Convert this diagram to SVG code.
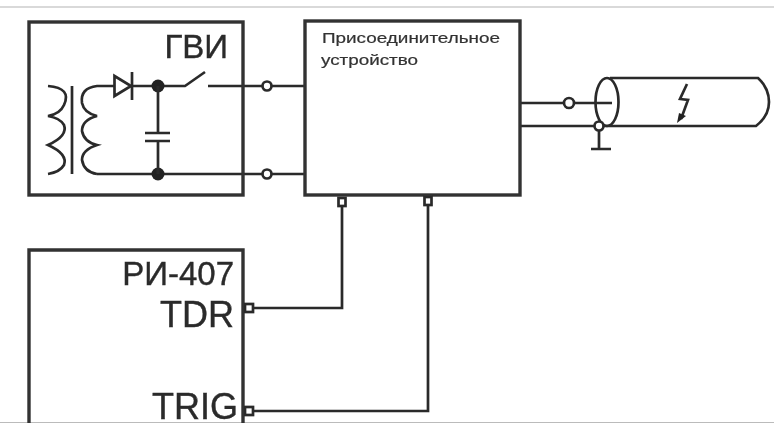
<svg xmlns="http://www.w3.org/2000/svg" width="774" height="423" viewBox="0 0 774 423">
<defs>
<style>
.l{fill:none;stroke:#2b2b2b;stroke-width:2.700}
.b{fill:none;stroke:#333;stroke-width:3.400}
.o{fill:#fff;stroke:#2b2b2b;stroke-width:2.700}
.d{fill:#222;stroke:none}
.t{font-family:"Liberation Sans",Arial,sans-serif;font-size:33px;fill:#2b2b2b;stroke:#2b2b2b;stroke-width:0.400;text-anchor:end}
.u{font-size:36px}
.s{font-family:"Liberation Sans",Arial,sans-serif;font-size:14.500px;fill:#333;stroke:#333;stroke-width:0.200}
</style>
<filter id="soft" x="-5%" y="-5%" width="110%" height="110%"><feGaussianBlur stdDeviation="0.500"/></filter>
</defs>
<rect width="774" height="423" fill="#fff"/>
<g filter="url(#soft)">
<path d="M0 7H774" fill="none" stroke="#ccc" stroke-width="1.500"/>
<path d="M0 422.500H774" fill="none" stroke="#bbb" stroke-width="1"/>
<g id="connectors">
<path class="l" d="M208 86H305M132 86H158H185L205 72M97 174H305"/>
<path class="l" d="M342 205V308H250M428 205V411H250"/>
<path class="l" d="M520 103H612M520 126H607"/>
</g>
<g id="gvi">
<rect class="b" x="29" y="22" width="214" height="173"/>
<text class="t" x="228" y="58">ГВИ</text>
<path class="l" d="M48 86Q72 88 64 105Q60 114 48 116Q60 118 64 125Q68 136 48 145Q68 154 64 165Q60 172 48 174"/>
<path class="l" d="M72 86V174"/>
<path class="l" d="M114 86H97Q80 88 82 103Q84 113 97 116Q82 120 82 131Q84 142 97 145Q82 150 82 160Q84 172 97 174"/>
<path class="l" d="M114.500 76V96L131 86Z" fill="#fff"/>
<path class="l" d="M132 72V100"/>
<circle class="d" cx="158" cy="86" r="6.500"/>
<circle class="d" cx="158" cy="174" r="6.500"/>
<path class="l" d="M158 86V133M158 141V174M145 133H170M145 141H170"/>
</g>
<g id="terminals">
<circle class="o" cx="267" cy="86" r="4.500"/>
<circle class="o" cx="267" cy="174" r="4.500"/>
</g>
<g id="device">
<rect class="b" x="305" y="21" width="215" height="174"/>
<text class="s" x="322" y="43" textLength="178" lengthAdjust="spacingAndGlyphs">Присоединительное</text>
<text class="s" x="321" y="65" textLength="97" lengthAdjust="spacingAndGlyphs">устройство</text>
<rect class="o" x="338.500" y="198" width="7" height="8"/>
<rect class="o" x="424.500" y="197" width="7" height="8"/>
</g>
<g id="ri407">
<path class="b" d="M29 424V250H243V424"/>
<text class="t" x="234" y="285">РИ-407</text>
<text class="t u" x="234" y="327">TDR</text>
<text class="t u" x="238" y="419">TRIG</text>
<rect class="o" x="245" y="304" width="8" height="8"/>
<rect class="o" x="245" y="407" width="8" height="8"/>
</g>
<g id="cable">
<path class="l" d="M610 78H758Q769 88 769 102Q769 116 756 126H607"/>
<ellipse class="l" cx="607" cy="102" rx="11.500" ry="24"/>
<path class="l" d="M687 84L680 99L688 100L681 119"/>
<path class="d" d="M677 123L679 113L686 116Z"/>
<circle class="o" cx="569" cy="103" r="5"/>
<circle class="o" cx="599" cy="126" r="4.500"/>
<path class="l" d="M599 131V149M591 149H611"/>
</g>
</g>
</svg>
